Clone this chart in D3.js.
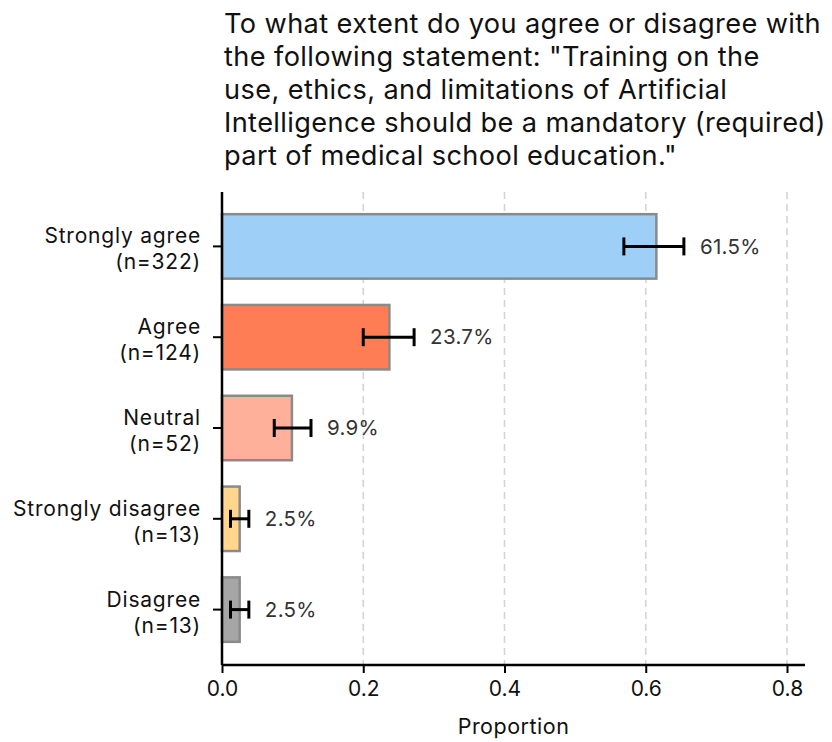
<!DOCTYPE html>
<html>
<head>
<meta charset="utf-8">
<script src="https://cdn.jsdelivr.net/npm/d3@7"></script>
<style>
  html, body { margin: 0; padding: 0; background: #fff; }
  svg { display: block; font-family: Inter, "Open Sans", sans-serif; }
</style>
</head>
<body>
<svg id="chart" width="832" height="742"></svg>
<script>
// Survey responses: share of respondents per answer, with 95% CI bounds
const categories = ["Strongly agree", "Agree", "Neutral", "Strongly disagree", "Disagree"];
const counts = [322, 124, 52, 13, 13];
const proportions = [0.615, 0.237, 0.099, 0.025, 0.025];
const ciLow = [0.569, 0.200, 0.074, 0.012, 0.012];
const ciHigh = [0.654, 0.272, 0.126, 0.038, 0.038];
const valueLabels = ["61.5%", "23.7%", "9.9%", "2.5%", "2.5%"];
const barColors = ["#9dcff7", "#ff7d55", "#ffb09b", "#ffd68c", "#a6a6a6"];
const xTicks = [0.0, 0.2, 0.4, 0.6, 0.8];
const titleLines = [
  "To what extent do you agree or disagree with",
  "the following statement: \"Training on the",
  "use, ethics, and limitations of Artificial",
  "Intelligence should be a mandatory (required)",
  "part of medical school education.\""
];

const data = categories.map((c, i) => ({
  cat: c, n: counts[i], p: proportions[i], lo: ciLow[i], hi: ciHigh[i],
  label: valueLabels[i], color: barColors[i]
}));

const svg = d3.select("#chart");
const plot = { left: 222, right: 805, top: 192, bottom: 665 };

const x = d3.scaleLinear().domain([0, 0.8]).range([222, 787]);
const y = d3.scaleBand().domain(categories)
  .range([201, 655]).paddingInner(0.29).paddingOuter(0.145);

// Title, one text per line
svg.append("g").attr("font-size", 27.2).attr("letter-spacing", 0.38).attr("fill", "#111")
  .selectAll("text").data(titleLines).join("text")
  .attr("x", 224).attr("y", (d, i) => 33 + i * 33)
  .text(d => d);

// Dashed vertical grid
svg.append("g").selectAll("line").data(xTicks.filter(d => d > 0)).join("line")
  .attr("x1", d => x(d)).attr("x2", d => x(d))
  .attr("y1", plot.top).attr("y2", plot.bottom)
  .attr("stroke", "#d4d4d4").attr("stroke-width", 1.6)
  .attr("stroke-dasharray", "7,5");

// Bars
svg.append("g").selectAll("rect").data(data).join("rect")
  .attr("x", x(0))
  .attr("y", d => y(d.cat))
  .attr("width", d => x(d.p) - x(0))
  .attr("height", y.bandwidth())
  .attr("fill", d => d.color)
  .attr("stroke", "#8a8a8a").attr("stroke-width", 2.5);

// Error bars
const eb = svg.append("g").attr("stroke", "#000").attr("stroke-width", 3);
data.forEach(d => {
  const cy = y(d.cat) + y.bandwidth() / 2;
  eb.append("line").attr("x1", x(d.lo)).attr("x2", x(d.hi)).attr("y1", cy).attr("y2", cy);
  [d.lo, d.hi].forEach(v => {
    eb.append("line").attr("x1", x(v)).attr("x2", x(v)).attr("y1", cy - 9).attr("y2", cy + 9);
  });
});

// Value labels
svg.append("g").selectAll("text").data(data).join("text")
  .attr("x", d => x(d.hi) + 16)
  .attr("y", d => y(d.cat) + y.bandwidth() / 2)
  .attr("dy", "0.35em")
  .attr("font-size", 20.5).attr("letter-spacing", 0.3).attr("fill", "#333")
  .text(d => d.label);

// X axis
const xAxis = svg.append("g").attr("transform", `translate(0,${plot.bottom})`)
  .call(d3.axisBottom(x).tickValues(xTicks).tickFormat(d3.format(".1f")).tickSize(8).tickPadding(8));
xAxis.select(".domain").attr("d", `M${plot.left},0H${plot.right}`).attr("stroke", "#000").attr("stroke-width", 2.5);
xAxis.selectAll(".tick text").attr("font-size", 21).attr("fill", "#111")
  .attr("font-family", "Inter, sans-serif");
xAxis.selectAll(".tick line").attr("stroke", "#000").attr("stroke-width", 2);

// Y axis
const yAxis = svg.append("g").attr("transform", `translate(${plot.left},0)`)
  .call(d3.axisLeft(y).tickSize(9).tickFormat(""));
yAxis.select(".domain").attr("d", `M0,${plot.top}V${plot.bottom}`).attr("stroke", "#000").attr("stroke-width", 2.5);
yAxis.selectAll(".tick line").attr("stroke", "#000").attr("stroke-width", 2);

// Two-line category labels: answer on top, respondent count below
const yl = svg.append("g").attr("font-size", 21).attr("letter-spacing", 0.8)
  .attr("fill", "#111").attr("text-anchor", "end");
data.forEach(d => {
  const cy = y(d.cat) + y.bandwidth() / 2;
  yl.append("text").attr("x", 201).attr("y", cy - 3).text(d.cat);
  yl.append("text").attr("x", 201).attr("y", cy + 23).text(`(n=${d.n})`);
});

// X axis label
svg.append("text").attr("x", (plot.left + plot.right) / 2).attr("y", 734)
  .attr("text-anchor", "middle").attr("font-size", 21.5).attr("letter-spacing", 0.5)
  .attr("fill", "#111")
  .text("Proportion");
</script>
</body>
</html>
